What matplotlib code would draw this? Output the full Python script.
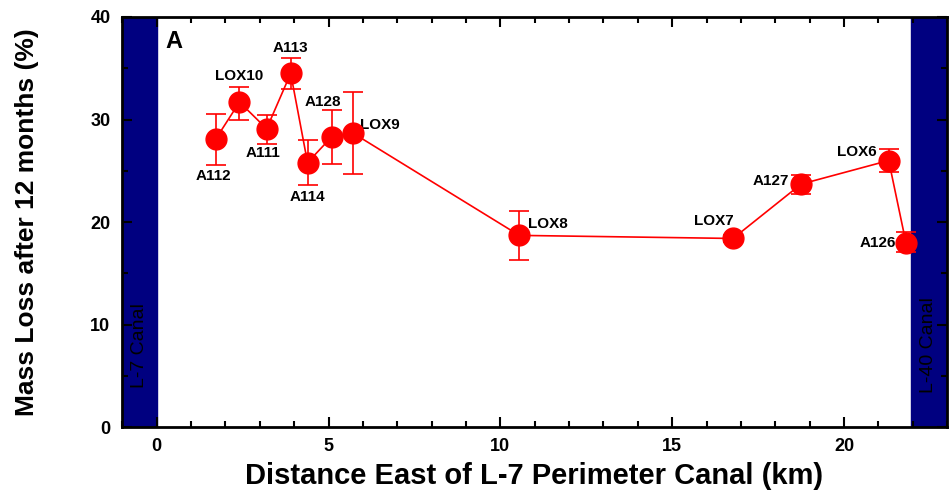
import matplotlib
matplotlib.use('Agg')
import matplotlib.pyplot as plt
from matplotlib.ticker import MultipleLocator

plt.rcParams['font.family'] = ['Liberation Sans', 'DejaVu Sans']

# site data (distance km, mass loss %, error bar low/high)
sites = ['A112', 'LOX10', 'A111', 'A113', 'A114', 'A128', 'LOX9',
         'LOX8', 'LOX7', 'A127', 'LOX6', 'A126']
dist = [1.72, 2.41, 3.2, 3.9, 4.39, 5.09, 5.7, 10.55, 16.77, 18.75, 21.3, 21.8]
loss = [28.1, 31.7, 29.1, 34.5, 25.8, 28.3, 28.7, 18.7, 18.4, 23.7, 26.0, 18.0]
err_lo = [2.5, 1.7, 1.5, 1.5, 2.2, 2.6, 4.0, 2.4, 0.3, 1.0, 1.1, 0.9]
err_hi = [2.4, 1.5, 1.3, 1.5, 2.2, 2.6, 4.0, 2.4, 0.3, 0.9, 1.1, 1.0]

# label positions for each site
lab_x = [1.66, 2.41, 3.08, 3.9, 4.39, 4.83, 5.93, 10.8, 16.8, 18.4, 20.95, 21.5]
lab_y = [24.5, 34.2, 26.7, 37.0, 22.4, 31.7, 29.5, 19.8, 20.1, 24.0, 26.8, 18.0]
lab_ha = ['center', 'center', 'center', 'center', 'center', 'center', 'left',
          'left', 'right', 'right', 'right', 'right']

fig = plt.figure(figsize=(9.5, 4.99), dpi=100)
ax = fig.add_axes([0.128, 0.144, 0.869, 0.822])

# canal bands
ax.axvspan(-1.02, 0, color='#000080', zorder=0)
ax.axvspan(21.95, 23.0, color='#000080', zorder=0)
ax.text(-0.5, 8, 'L-7 Canal', rotation=90, ha='center', va='center',
        fontsize=14, color='black')
ax.text(22.47, 8, 'L-40 Canal', rotation=90, ha='center', va='center',
        fontsize=14, color='black')

ax.errorbar(dist, loss, yerr=[err_lo, err_hi], color='red', lw=1.2,
            marker='o', markersize=15, capsize=7, elinewidth=1.2,
            capthick=1.2, zorder=3)

for s, x, y, ha in zip(sites, lab_x, lab_y, lab_ha):
    ax.text(x, y, s, ha=ha, va='center', fontsize=11, fontweight='bold')

ax.text(0.25, 37.6, 'A', fontsize=17, fontweight='bold', ha='left', va='center')

ax.set_xlim(-1.02, 23.0)
ax.set_ylim(0, 40)
ax.xaxis.set_major_locator(MultipleLocator(5))
ax.xaxis.set_minor_locator(MultipleLocator(1))
ax.yaxis.set_major_locator(MultipleLocator(10))
ax.yaxis.set_minor_locator(MultipleLocator(5))
ax.tick_params(which='both', direction='in', top=True, right=True, width=1.5)
ax.tick_params(which='major', length=7, labelsize=13, pad=8)
ax.tick_params(which='minor', length=4)
for lab in ax.get_xticklabels() + ax.get_yticklabels():
    lab.set_fontweight('bold')
for sp in ax.spines.values():
    sp.set_linewidth(2)

ax.set_xlabel('Distance East of L-7 Perimeter Canal (km)', fontsize=21,
              fontweight='bold')
ax.xaxis.set_label_coords(0.5, -0.085)
ax.set_ylabel('Mass Loss after 12 months (%)', fontsize=19,
              fontweight='bold')
ax.yaxis.set_label_coords(-0.1, 0.5)

fig.savefig('out.png', dpi=100)
